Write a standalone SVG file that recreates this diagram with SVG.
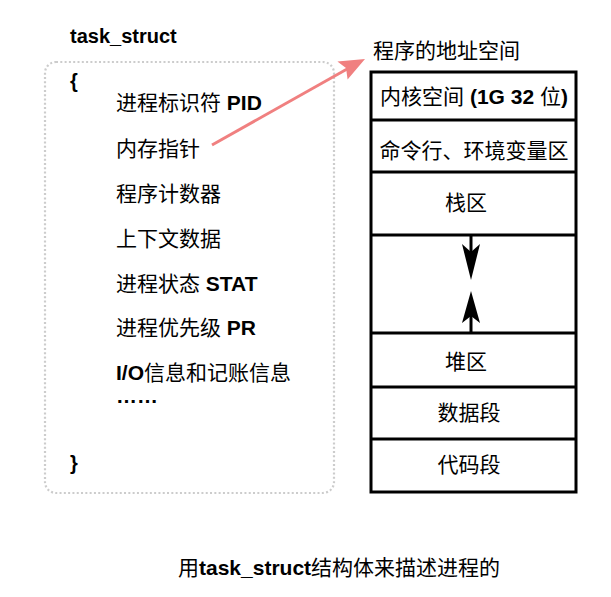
<svg xmlns="http://www.w3.org/2000/svg" width="611" height="597" viewBox="0 0 611 597">
  <style>
    text { font-family: "Liberation Sans", "Noto Sans CJK SC", sans-serif; fill: #000; }
    .t { font-size: 21px; }
    .b { font-weight: bold; }
    .c { text-anchor: middle; }
    .row { fill: none; stroke: #000; stroke-width: 3; }
    .bh { fill: #000; stroke: none; }
  </style>

  <g id="task_struct">
    <text x="70" y="43" class="b" font-size="20">task_struct</text>
    <rect x="45" y="62" width="289" height="431" rx="11" ry="11" fill="none" stroke="#CCCCCC" stroke-width="2.2" stroke-dasharray="2 2.3"/>
    <text x="70" y="88" class="b" font-size="20">{</text>
    <text x="116" y="110" class="t">进程标识符 <tspan class="b">PID</tspan></text>
    <text x="116" y="156" class="t">内存指针</text>
    <text x="116" y="201" class="t">程序计数器</text>
    <text x="116" y="246" class="t">上下文数据</text>
    <text x="116" y="291" class="t">进程状态 <tspan class="b">STAT</tspan></text>
    <text x="116" y="335" class="t">进程优先级 <tspan class="b">PR</tspan></text>
    <text x="116" y="380" class="t"><tspan class="b">I/O</tspan>信息和记账信息</text>
    <text x="116" y="403" class="t b" font-size="18">……</text>
    <text x="70" y="470" class="b" font-size="20">}</text>
  </g>

  <g id="address_space">
    <text x="373" y="58" class="t">程序的地址空间</text>
    <rect x="371" y="72" width="205" height="420" class="row"/>
    <line x1="371" y1="120" x2="576" y2="120" class="row"/>
    <line x1="371" y1="172" x2="576" y2="172" class="row"/>
    <line x1="371" y1="235" x2="576" y2="235" class="row"/>
    <line x1="371" y1="333" x2="576" y2="333" class="row"/>
    <line x1="371" y1="387" x2="576" y2="387" class="row"/>
    <line x1="371" y1="439" x2="576" y2="439" class="row"/>
  </g>
  <g id="kernel"><text x="474" y="104" class="t c">内核空间 <tspan class="b">(1G 32 </tspan>位<tspan class="b">)</tspan></text></g>
  <g id="cmdline"><text x="474" y="158" class="t c">命令行、环境变量区</text></g>
  <g id="stack"><text x="466" y="210" class="t c">栈区</text></g>
  <g id="heap"><text x="466" y="369" class="t c">堆区</text></g>
  <g id="data"><text x="469" y="420" class="t c">数据段</text></g>
  <g id="code"><text x="469" y="472" class="t c">代码段</text></g>

  <g id="connectors">
    <line x1="212" y1="145" x2="348" y2="68.5" stroke="#F08080" stroke-width="3"/>
    <path d="M365,59 L337.4,61.6 L346,68 L347.6,79.6 Z" fill="#F08080"/>
    <line x1="471" y1="235" x2="471" y2="258" stroke="#000" stroke-width="3"/>
    <path d="M471,280 L462,244 L471,252 L480,244 Z" class="bh"/>
    <line x1="471" y1="333" x2="471" y2="314" stroke="#000" stroke-width="3"/>
    <path d="M471,291 L462,323 L471,316 L480,323 Z" class="bh"/>
  </g>

  <g id="caption">
    <text x="178" y="575" class="t">用<tspan class="b">task_struct</tspan>结构体来描述进程的</text>
  </g>
</svg>
